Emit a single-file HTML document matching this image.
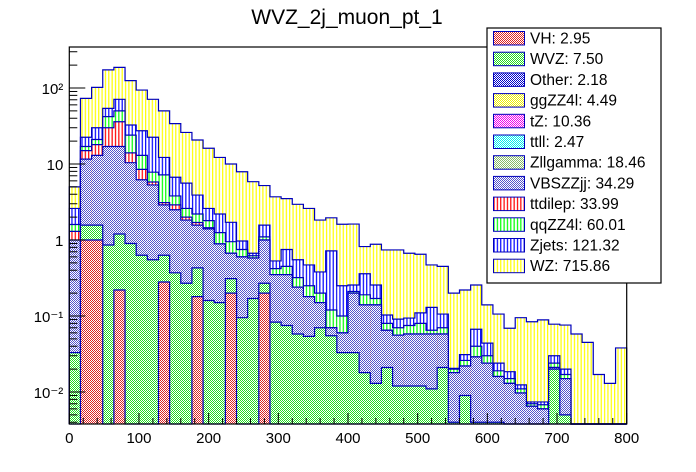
<!DOCTYPE html>
<html><head><meta charset="utf-8"><style>
html,body{margin:0;padding:0;background:#fff;}
svg{display:block;font-family:"Liberation Sans",Arial,sans-serif;}
</style></head><body>
<svg id="chart" width="696" height="472" viewBox="0 0 696 472" xmlns="http://www.w3.org/2000/svg">
<defs>
<pattern id="pYellow" width="3.35" height="4" patternUnits="userSpaceOnUse"><rect width="3.35" height="4" fill="#fff"/><rect x="1" width="1.2" height="4" fill="#ffff00"/></pattern>
<pattern id="pBlue" width="3.35" height="4" patternUnits="userSpaceOnUse"><rect width="3.35" height="4" fill="#fff"/><rect x="1" width="1.2" height="4" fill="#0000ff"/></pattern>
<pattern id="pGreenV" width="3.35" height="4" patternUnits="userSpaceOnUse"><rect width="3.35" height="4" fill="#fff"/><rect x="1" width="1.2" height="4" fill="#00ff00"/></pattern>
<pattern id="pRedV" width="3.35" height="4" patternUnits="userSpaceOnUse"><rect width="3.35" height="4" fill="#fff"/><rect x="1" width="1.2" height="4" fill="#ff0000"/></pattern>
<pattern id="cVBS" width="2" height="2" patternUnits="userSpaceOnUse"><rect width="2" height="2" fill="#fff"/><rect width="1" height="1" fill="#5555cc"/><rect x="1" y="1" width="1" height="1" fill="#5555cc"/></pattern>
<pattern id="cGreen" width="2" height="2" patternUnits="userSpaceOnUse"><rect width="2" height="2" fill="#fff"/><rect width="1" height="1" fill="#22dd22"/><rect x="1" y="1" width="1" height="1" fill="#22dd22"/></pattern>
<pattern id="cRed" width="2" height="2" patternUnits="userSpaceOnUse"><rect width="2" height="2" fill="#fff"/><rect width="1" height="1" fill="#dd2222"/><rect x="1" y="1" width="1" height="1" fill="#dd2222"/></pattern>
<pattern id="cBlueD" width="2" height="2" patternUnits="userSpaceOnUse"><rect width="2" height="2" fill="#fff"/><rect width="1" height="1" fill="#0000cc"/><rect x="1" y="1" width="1" height="1" fill="#0000cc"/></pattern>
<pattern id="cYel" width="2" height="2" patternUnits="userSpaceOnUse"><rect width="2" height="2" fill="#fff"/><rect width="1" height="1" fill="#eeee00"/><rect x="1" y="1" width="1" height="1" fill="#eeee00"/></pattern>
<pattern id="cMag" width="2" height="2" patternUnits="userSpaceOnUse"><rect width="2" height="2" fill="#fff"/><rect width="1" height="1" fill="#ee00ee"/><rect x="1" y="1" width="1" height="1" fill="#ee00ee"/></pattern>
<pattern id="cCyan" width="2" height="2" patternUnits="userSpaceOnUse"><rect width="2" height="2" fill="#fff"/><rect width="1" height="1" fill="#00eeee"/><rect x="1" y="1" width="1" height="1" fill="#00eeee"/></pattern>
<pattern id="cZll" width="2" height="2" patternUnits="userSpaceOnUse"><rect width="2" height="2" fill="#fff"/><rect width="1" height="1" fill="#88bb66"/><rect x="1" y="1" width="1" height="1" fill="#88bb66"/></pattern>
</defs>
<text x="347" y="24" font-size="21" text-anchor="middle" fill="#000">WVZ_2j_muon_pt_1</text>
<g id="plot"></g>
<g id="axes"></g>
<g id="legend"></g>
</svg>
<script>
const binEdgesMin = 0, binEdgesMax = 800, nBins = 50;
const totalTop = [5.0,73,102,173,187,125,94,71,50,34,26,20.7,16.1,12.2,10,7.9,5.85,5.2,3.7,3.5,2.95,2.6,1.83,1.96,1.61,1.62,0.82,0.88,0.74,0.74,0.67,0.65,0.47,0.45,0.20,0.22,0.256,0.14,0.106,0.069,0.095,0.084,0.089,0.078,0.076,0.058,0.045,0.017,0.013,0.038];
const zjetsTop = [2.6,22.5,30,54,71,32.6,27.4,22.5,12.2,6.7,5.6,3.9,2.6,2.2,1.71,0.97,0.67,1.57,0.53,0.75,0.55,0.47,0.38,0.72,0.25,0.256,0.36,0.256,0.103,0.091,0.094,0.11,0.13,0.106,0.0205,0.031,0.067,0.044,0.024,0.0185,0.0124,0.0074,0.0074,0.030,0.020,0,0,0,0,0];
const qqzzTop = [1.6,17,21,42,50,24,13,7.8,7.2,3.8,2.6,2.2,1.8,1.25,0.95,0.75,0.62,1.1,0.42,0.45,0.32,0.25,0.2,0.12,0.1,0.21,0.19,0.17,0.08,0.07,0.075,0.08,0.065,0.07,0.02,0.026,0.04,0.03,0.019,0.015,0.011,0.007,0.0068,0.024,0.017,0,0,0,0,0];
const ttdilepTop = [1.3,15,18,30,36,14,8.5,5.8,3.1,2.9,2.0,1.7,1.45,0.89,0.67,0.6,0.58,1.0,0.35,0.35,0.24,0.18,0.15,0.07,0.06,0.2,0.14,0.14,0.065,0.056,0.058,0.058,0.058,0.058,0.018,0.022,0.029,0.024,0.016,0.013,0.0097,0.0065,0.006,0.021,0.015,0,0,0,0,0];
const restTop = [1.0,11.6,13,17,17,10.4,6.2,5.3,2.9,2.5,1.83,1.57,1.4,0.89,0.67,0.6,0.58,1.0,0.35,0.35,0.24,0.18,0.15,0.07,0.06,0.2,0.14,0.14,0.065,0.056,0.058,0.058,0.058,0.058,0.018,0.022,0.029,0.024,0.016,0.013,0.0097,0.0065,0.006,0.021,0.015,0,0,0,0,0];
const wvzTop = [0.033,1.57,1.57,0.86,1.2,0.9,0.63,0.55,0.63,0.37,0.27,0.43,0.16,0.15,0.31,0.095,0.17,0.27,0.083,0.075,0.058,0.054,0.07,0.055,0.033,0.033,0.018,0.013,0.021,0.012,0.012,0.012,0.011,0.021,0.004,0.009,0.004,0.004,0.004,0,0,0,0,0.02,0.005,0,0,0,0,0];
const vhTop = [0,1.0,1.0,0,0.22,0,0,0,0.28,0,0,0.18,0,0,0.2,0,0,0.2,0,0,0,0,0,0,0,0,0,0,0,0,0,0,0,0,0,0,0,0,0,0,0,0,0,0,0,0,0,0,0,0];
const xTickLabels = ["0","100","200","300","400","500","600","700","800"];
const yDecades = [-2,-1,0,1,2];
const yTickLabels = ["10\u207B\u00B2","10\u207B\u00B9","1","10","10\u00B2"];
const legendNames = ["VH: 2.95","WVZ: 7.50","Other: 2.18","ggZZ4l: 4.49","tZ: 10.36","ttll: 2.47","Zllgamma: 18.46","VBSZZjj: 34.29","ttdilep: 33.99","qqZZ4l: 60.01","Zjets: 121.32","WZ: 715.86"];
const legendFills = ["cRed","cGreen","cBlueD","cYel","cMag","cCyan","cZll","cVBS","pRedV","pGreenV","pBlue","pYellow"];

const NS="http://www.w3.org/2000/svg";
const X0=69.3,X1=626.7,YB=424,YT=47,Y1=240,DEC=76;
const ymin=Math.pow(10,(Y1-YB)/DEC);
function xs(v){return X0+(v-binEdgesMin)/(binEdgesMax-binEdgesMin)*(X1-X0);}
function ys(v){ if(v<=ymin) return YB; return Math.max(YT,Y1-DEC*Math.log10(v)); }
function mk(tag,attrs,parent){const e=document.createElementNS(NS,tag);for(const k in attrs)e.setAttribute(k,attrs[k]);parent.appendChild(e);return e;}
const plot=document.getElementById('plot'),axes=document.getElementById('axes'),legend=document.getElementById('legend');
const bw=(binEdgesMax-binEdgesMin)/nBins;

function layer(vals,fill,name){
  const g=mk('g',{},plot);
  
  
  for(let i=0;i<nBins;i++){
    if(!(vals[i]>0))continue;
    const xa=xs(binEdgesMin+i*bw),xb=xs(binEdgesMin+(i+1)*bw),y=ys(vals[i]);
    const r=mk('rect',{x:xa,y:y,width:xb-xa,height:YB-y,fill:'url(#'+fill+')'},g);
    
    
  }
  let d='M'+xs(binEdgesMin)+','+YB;
  for(let i=0;i<nBins;i++){
    const y=vals[i]>0?ys(vals[i]):YB;
    const xa=xs(binEdgesMin+i*bw),xb=xs(binEdgesMin+(i+1)*bw);
    d+=' L'+xa+','+y+' L'+xb+','+y;
  }
  d+=' L'+xs(binEdgesMax)+','+YB;
  const p=mk('path',{d:d,fill:'none',stroke:'#0000bb','stroke-width':1.2},g);
  
  
}
layer(totalTop,'pYellow','wz-series');
layer(zjetsTop,'pBlue','zjets-series');
layer(qqzzTop,'pGreenV','qqzz4l-series');
layer(ttdilepTop,'pRedV','ttdilep-series');
layer(restTop,'cVBS','vbszzjj-series');
layer(wvzTop,'cGreen','wvz-series');
layer(vhTop,'cRed','vh-series');

const fr=mk('rect',{x:X0,y:YT,width:X1-X0,height:YB-YT,fill:'none',stroke:'#000','stroke-width':1.2},axes);


for(let v=0;v<=800;v+=20){
  const major=(v%100===0);
  const t=mk('line',{x1:xs(v),x2:xs(v),y1:YB,y2:YB-(major?11:6),stroke:'#000','stroke-width':1},axes);
  
  
}
xTickLabels.forEach((s,i)=>{
  const t=mk('text',{x:xs(i*100),y:YB+19,'font-size':15,'text-anchor':'middle'},axes);
  t.textContent=s;
  
  
});
for(let d=-3;d<=2;d++){
  for(let m=1;m<=9;m++){
    const v=m*Math.pow(10,d);
    const y=ys(v); if(v<ymin||y<=YT)continue;
    const t=mk('line',{x1:X0,x2:X0+(m===1?16:8),y1:y,y2:y,stroke:'#000','stroke-width':1},axes);
    
    
  }
}
yDecades.forEach((dd,i)=>{
  const t=mk('text',{x:X0-6,y:ys(Math.pow(10,dd))+6,'font-size':15,'text-anchor':'end'},axes);
  t.textContent=yTickLabels[i];
  
  
});
const lb=mk('rect',{x:487,y:28,width:174,height:255,fill:'#fff',stroke:'#000','stroke-width':1.2},legend);


legendNames.forEach((s,i)=>{
  const cy=38+i*20.7;
  const g=mk('g',{},legend);
  
  
  mk('rect',{x:493.5,y:cy-6.5,width:31,height:13.5,fill:'url(#'+legendFills[i]+')',stroke:'#0000bb','stroke-width':1},g);
  const t=mk('text',{x:530,y:cy+5.5,'font-size':15.5},g);
  t.textContent=s;
});
</script>
</body></html>
